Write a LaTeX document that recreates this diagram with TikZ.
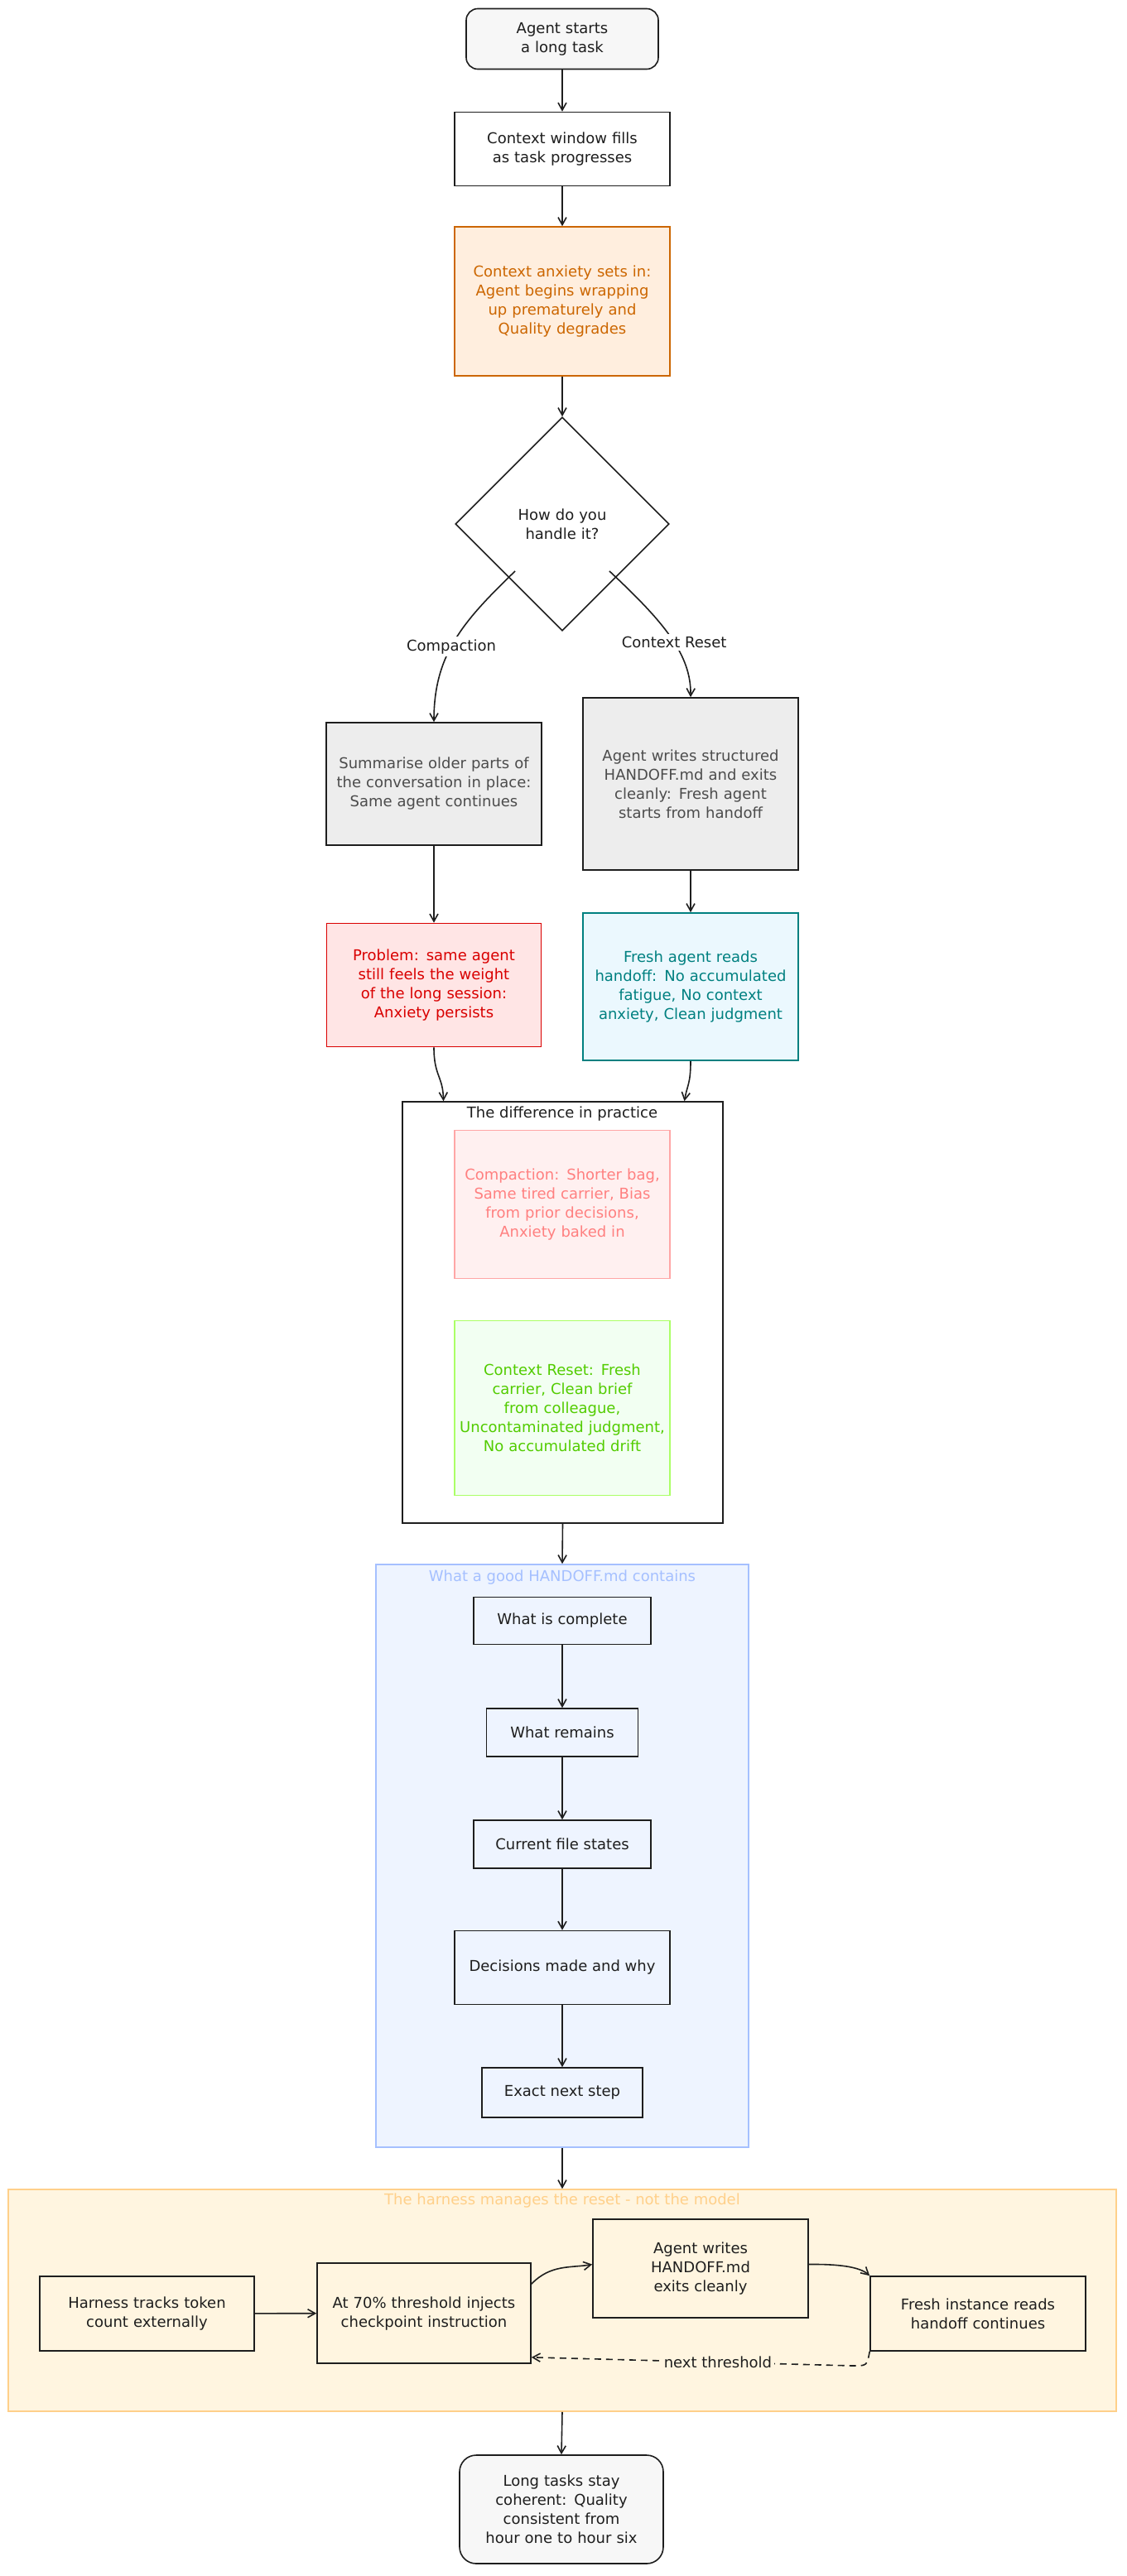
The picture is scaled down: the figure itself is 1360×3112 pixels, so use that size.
\documentclass[tikz,border=0pt]{standalone}
\usepackage{fontspec}
\setmainfont{DejaVu Sans}
\usetikzlibrary{shapes.geometric,arrows.meta,positioning}
\definecolor{ink}{HTML}{1E1E1E}
\definecolor{hofill}{HTML}{EEF4FF}
\definecolor{hodraw}{HTML}{A5C0FF}
\definecolor{hafill}{HTML}{FFF5E0}
\definecolor{hadraw}{HTML}{FFD08A}
\hyphenpenalty=10000\relax
\exhyphenpenalty=10000\relax
\begin{document}
\begin{tikzpicture}[x=1pt,y=-1pt,
  every node/.style={font=\fontsize{18}{23}\selectfont, text=ink},
  box/.style={draw=ink, line width=1.6pt, align=center, inner sep=4pt},
  arr/.style={-{Straight Barb[length=9pt,width=10pt]}, line width=1.6pt, draw=ink}]
\useasboundingbox (0,0) rectangle (1360,3112);
\fill[white] (0,0) rectangle (1360,3112);

\node[box, fill=white!97!black, rounded corners=14pt, minimum width=232, minimum height=73, text width=200] (start) at (679,47) {Agent starts a long task};
\node[box, minimum width=260, minimum height=89, text width=245] (ctx) at (679,180) {Context window fills as task progresses};
\node[box, draw=orange!80!black, fill=orange!13, text=orange!80!black, minimum width=260, minimum height=180, text width=250] (anx) at (679,364) {Context anxiety sets in: Agent begins wrapping up prematurely and Quality degrades};
\node[box, diamond, aspect=1, minimum width=258, minimum height=258, inner sep=0pt, text width=120] (dia) at (679,633) {How do you handle it?};

\node[box, fill=black!7, text=black!70, minimum width=259, minimum height=148, text width=252] (sum) at (524,947) {Summarise older parts of the conversation in place: Same agent continues};
\node[box, fill=black!7, text=black!70, minimum width=260, minimum height=208, text width=230] (aw) at (834,947) {Agent writes structured HANDOFF.md and exits cleanly: Fresh agent starts from handoff};
\node[box, draw=red!85!black, fill=red!10, text=red!85!black, minimum width=259, minimum height=149, text width=245] (prob) at (524,1190) {Problem: same agent still feels the weight of the long session: Anxiety persists};
\node[box, draw=teal, fill=cyan!8, text=teal, minimum width=260, minimum height=178, text width=250] (fresh) at (834,1192) {Fresh agent reads handoff: No accumulated fatigue, No context anxiety, Clean judgment};

\draw[arr] (dia.south west) ++(8,-8) .. controls (560,750) and (524,790) .. node[fill=white, pos=0.55]{Compaction} (sum.north);
\draw[arr] (dia.south east) ++(-8,-8) .. controls (800,750) and (835,790) .. node[fill=white, pos=0.55]{Context Reset} (aw.north);
\draw[arr] (sum) -- (prob);
\draw[arr] (aw) -- (fresh);

% difference box
\node[box, minimum width=387, minimum height=509] (diff) at (679.5,1585.5) {};
\node[anchor=north] (difft) at (679,1333) {The difference in practice};
\node[box, draw=red!35, fill=red!6, text=red!50, minimum width=260, minimum height=179, text width=245] (dc) at (679,1455) {Compaction: Shorter bag, Same tired carrier, Bias from prior decisions, Anxiety baked in};
\node[box, draw=green!55!yellow!60, fill=green!5, text=green!60!yellow!80!black, minimum width=260, minimum height=211, text width=250] (dr) at (679,1701) {Context Reset: Fresh carrier, Clean brief from colleague, Uncontaminated judgment, No accumulated drift};

\draw[arr] (prob.south) .. controls (524,1300) and (535,1300) .. ([xshift=-144]diff.north);
\draw[arr] (fresh.south) .. controls (834,1310) and (830,1310) .. ([xshift=147]diff.north);

% handoff
\node[box, draw=hodraw, fill=hofill, minimum width=450, minimum height=704] (ho) at (679,2242) {};
\node[anchor=north, text=hodraw] (hot) at (679,1893) {What a good HANDOFF.md contains};
\node[box, minimum width=214, minimum height=57] (h1) at (679,1958) {What is complete};
\node[box, minimum width=183, minimum height=58] (h2) at (679,2093) {What remains};
\node[box, minimum width=214, minimum height=58] (h3) at (679,2228) {Current file states};
\node[box, minimum width=260, minimum height=89] (h4) at (679,2377) {Decisions made and why};
\node[box, minimum width=194, minimum height=60] (h5) at (679,2528) {Exact next step};
\draw[arr] (diff.south) -- (ho.north);
\draw[arr] (h1) -- (h2);
\draw[arr] (h2) -- (h3);
\draw[arr] (h3) -- (h4);
\draw[arr] (h4) -- (h5);

% harness
\node[box, draw=hadraw, fill=hafill, minimum width=1338, minimum height=268] (har) at (679,2779) {};
\node[anchor=north, text=hadraw] (hart) at (679,2646) {The harness manages the reset - not the model};
\node[box, fill=hafill, minimum width=259, minimum height=90, text width=245] (t1) at (177.5,2795) {Harness tracks token count externally};
\node[box, fill=hafill, minimum width=258, minimum height=121, text width=250] (t2) at (512,2794.5) {At 70\% threshold injects checkpoint instruction};
\node[box, fill=hafill, minimum width=260, minimum height=119, text width=220] (t3) at (846,2740.5) {Agent writes HANDOFF.md exits cleanly};
\node[box, fill=hafill, minimum width=260, minimum height=90, text width=240] (t4) at (1181,2795) {Fresh instance reads handoff continues};
\coordinate (t2a) at ([yshift=-26]t2.north east);
\coordinate (t2b) at ([yshift=8]t2.south east);
\coordinate (dk) at (1030,2858);
\draw[arr] (ho.south) -- (har.north);
\draw[arr] (t1) -- (t2);
\draw[arr] (t2a) .. controls (665,2735) and (690,2740) .. ([yshift=5]t3.west);
\draw[arr] ([yshift=5]t3.east) .. controls (1020,2735) and (1040,2740) .. (t4.north west);
\draw[arr, dash pattern=on 8pt off 6pt] (t4.south west) .. controls (1047,2858) .. (dk) -- node[fill=hafill, pos=0.42]{next threshold} (t2b);

\node[box, fill=white!97!black, rounded corners=20pt, minimum width=246, minimum height=131, text width=230] (end) at (678,3031.5) {Long tasks stay coherent: Quality consistent from hour one to hour six};
\draw[arr] (har.south) -- (end.north);
\draw[arr] (start) -- (ctx);
\draw[arr] (ctx) -- (anx);
\draw[arr] (anx) -- (dia);
\end{tikzpicture}
\end{document}
